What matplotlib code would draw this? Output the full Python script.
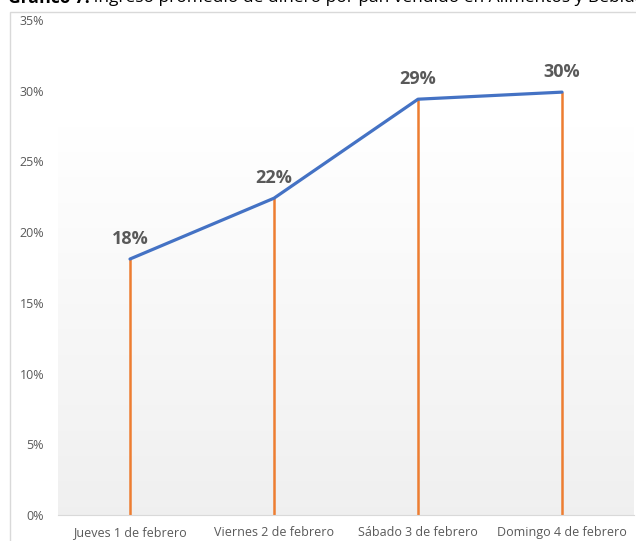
import numpy as np
import matplotlib
matplotlib.use("Agg")
import matplotlib.pyplot as plt
from matplotlib.patches import Rectangle
from matplotlib.ticker import FuncFormatter

categories = ["Jueves 1 de febrero", "Viernes 2 de febrero",
              "Sábado 3 de febrero", "Domingo 4 de febrero"]
values = [18.1, 22.4, 29.4, 29.9]
labels = ["18%", "22%", "29%", "30%"]
title_bold = "Gráfico 7."
title_rest = " Ingreso promedio de dinero por pan vendido en Alimentos y Bebidas"

plt.rcParams['font.family'] = ['Open Sans', 'DejaVu Sans']

fig = plt.figure(figsize=(6.36, 5.41), dpi=100)

# chart frame
fig.patches.append(Rectangle((10 / 636, -0.01), 1.0, (541 - 12) / 541 + 0.01,
                             transform=fig.transFigure, fill=False,
                             edgecolor="#d9d9d9", linewidth=1.0))
# title, cut off at the top like in the source image
t1 = fig.text(0.012, 1.003, title_bold, ha="left", va="center", fontsize=12.5,
              fontweight="bold", color="#000000")
fig.add_artist(plt.Annotation(title_rest, xy=(1, 0.5), xycoords=t1,
                              ha="left", va="center", fontsize=12.5,
                              color="#000000"))

ax = fig.add_axes([58 / 636, 26 / 541, 576 / 636, 495 / 541])
x = np.arange(len(categories))
ax.set_xlim(-0.5, len(categories) - 0.5)
ax.set_ylim(0, 35)

# plot area gradient (white at top -> light gray at bottom)
grad = np.linspace(1, 0, 256).reshape(-1, 1)
top_c = np.array([1.0, 1.0, 1.0])
bot_c = np.array([0.94, 0.94, 0.94])
img = top_c * grad[..., None] + bot_c * (1 - grad[..., None])
ax.imshow(img, extent=[-0.5, len(categories) - 0.5, 0, 27.5], aspect="auto",
          zorder=0, origin="upper")

ax.vlines(x, 0, values, color="#ED7D31", linewidth=1.8, zorder=2)
ax.plot(x, values, color="#4472C4", linewidth=2.3, zorder=3,
        solid_capstyle="round")

for xi, v, lab in zip(x, values, labels):
    ax.annotate(lab, (xi, v), xytext=(0, 8), textcoords="offset points",
                ha="center", va="bottom", fontsize=13, fontweight="bold",
                color="#595959")

ax.set_xticks(x)
ax.set_xticklabels(categories)
ax.set_yticks(np.arange(0, 36, 5))
ax.yaxis.set_major_formatter(FuncFormatter(lambda v, p: f"{int(v)}%"))
ax.tick_params(axis="x", length=0, labelsize=9, labelcolor="#595959", pad=8)
ax.tick_params(axis="y", length=0, labelsize=9, labelcolor="#595959", pad=10)

for s in ["top", "right", "left"]:
    ax.spines[s].set_visible(False)
ax.spines["bottom"].set_color("#d9d9d9")
ax.set_facecolor("white")

fig.savefig("out.png", dpi=100)
